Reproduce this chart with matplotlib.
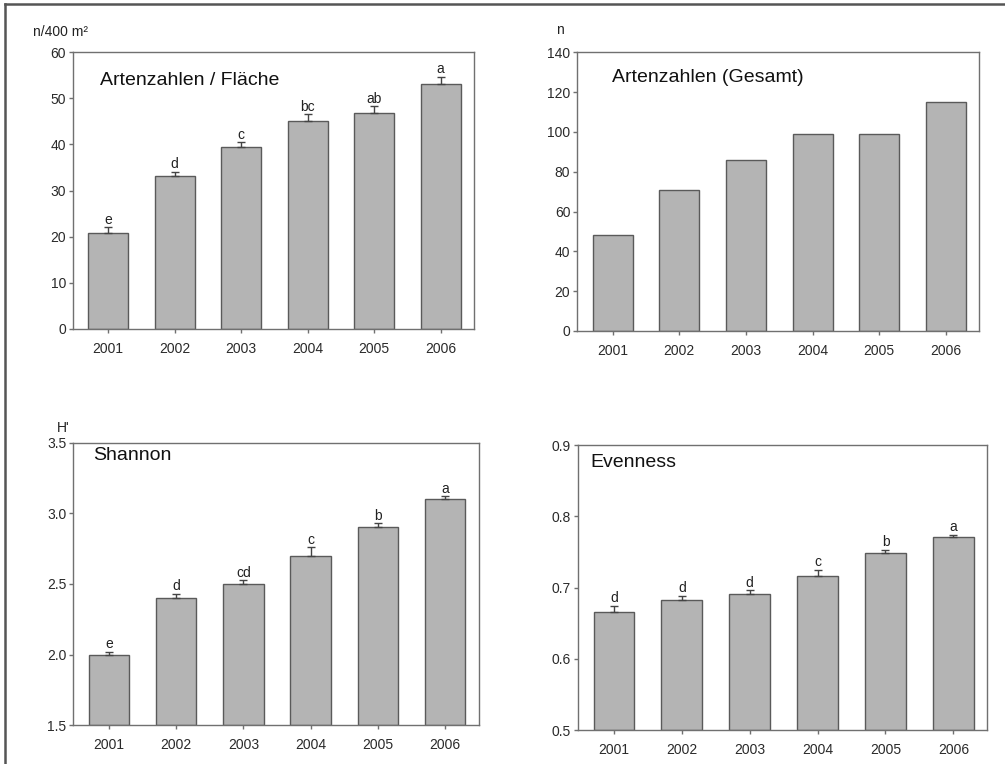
import numpy as np
import matplotlib.pyplot as plt
from matplotlib.lines import Line2D

plt.rcParams['font.family'] = ['Liberation Sans', 'DejaVu Sans']

years = ['2001', '2002', '2003', '2004', '2005', '2006']

# species per plot (n/400 m2), standard error, significance groups
arten_flaeche = [20.8, 33.1, 39.5, 45.1, 46.8, 53.1]
arten_flaeche_err = [1.2, 1.0, 0.9, 1.4, 1.4, 1.5]
arten_flaeche_grp = ['e', 'd', 'c', 'bc', 'ab', 'a']

# total species count
arten_gesamt = [48, 71, 86, 99, 99, 115]

# Shannon index H'
shannon = [2.0, 2.4, 2.5, 2.7, 2.9, 3.1]
shannon_err = [0.02, 0.03, 0.025, 0.06, 0.03, 0.02]
shannon_grp = ['e', 'd', 'cd', 'c', 'b', 'a']

# Evenness
evenness = [0.665, 0.682, 0.691, 0.716, 0.748, 0.771]
evenness_err = [0.009, 0.006, 0.005, 0.009, 0.005, 0.003]
evenness_grp = ['d', 'd', 'd', 'c', 'b', 'a']

fig = plt.figure(figsize=(10.05, 7.64), dpi=100)

# frame round the whole figure
fig.add_artist(Line2D([0.0045, 1.0], [0.995, 0.995], transform=fig.transFigure,
                      color='#555555', lw=1.8))
fig.add_artist(Line2D([0.0045, 0.0045], [0.0, 0.995], transform=fig.transFigure,
                      color='#555555', lw=1.8))

bar_color = '#b4b4b4'
edge_color = '#5a5a5a'
spine_color = '#707070'


def panel(rect, values, ylim, yticks, fmt, title, title_pos, err=None, groups=None):
    ax = fig.add_axes(rect)
    x = np.arange(len(values))
    ax.bar(x, np.array(values) - ylim[0], bottom=ylim[0], width=0.6,
           color=bar_color, edgecolor=edge_color, linewidth=1.0, zorder=2)
    if err is not None:
        ax.errorbar(x, values, yerr=[np.zeros(len(err)), err], fmt='none',
                    ecolor='#444444', elinewidth=1.0, capsize=3, capthick=1.0, zorder=3)
        for xi, v, e, g in zip(x, values, err, groups):
            ax.annotate(g, (xi, v + e), xytext=(0, 0.5), textcoords='offset points',
                        ha='center', va='bottom', fontsize=10, color='#222222')
    ax.set_xlim(-0.53, 5.5)
    ax.set_ylim(*ylim)
    ax.set_yticks(yticks)
    ax.set_yticklabels([fmt.format(t) for t in yticks])
    ax.set_xticks(x)
    ax.set_xticklabels(years)
    for s in ax.spines.values():
        s.set_color(spine_color)
        s.set_linewidth(1.0)
    ax.tick_params(direction='out', length=3, width=1, color=spine_color,
                   labelsize=10, labelcolor='#2a2a2a')
    ax.tick_params(axis='x', pad=6.5)
    ax.tick_params(axis='y', pad=2)
    ax.text(title_pos[0], title_pos[1], title, transform=ax.transAxes,
            ha='left', va='center', fontsize=14, color='#111111')
    return ax


panel([0.0726, 0.5694, 0.399, 0.3625], arten_flaeche, (0, 60), np.arange(0, 61, 10),
      '{:.0f}', 'Artenzahlen / Fläche', (0.067, 0.899),
      arten_flaeche_err, arten_flaeche_grp)
panel([0.5744, 0.5668, 0.400, 0.3647], arten_gesamt, (0, 140), np.arange(0, 141, 20),
      '{:.0f}', 'Artenzahlen (Gesamt)', (0.086, 0.911))
panel([0.0729, 0.0507, 0.4034, 0.3699], shannon, (1.5, 3.5), np.arange(1.5, 3.51, 0.5),
      '{:.1f}', 'Shannon', (0.048, 0.953), shannon_err, shannon_grp)
panel([0.5751, 0.0445, 0.4073, 0.373], evenness, (0.5, 0.9), np.arange(0.5, 0.91, 0.1),
      '{:.1f}', 'Evenness', (0.031, 0.937), evenness_err, evenness_grp)

# unit labels above the y axes
fig.text(33 / 1005, 1 - 32 / 764, 'n/400 m²', ha='left', va='center', fontsize=10, color='#222222')
fig.text(556 / 1005, 1 - 30 / 764, 'n', ha='left', va='center', fontsize=10, color='#222222')
fig.text(57 / 1005, 1 - 428 / 764, "H'", ha='left', va='center', fontsize=10, color='#222222')

fig.savefig('out.png', dpi=100)
